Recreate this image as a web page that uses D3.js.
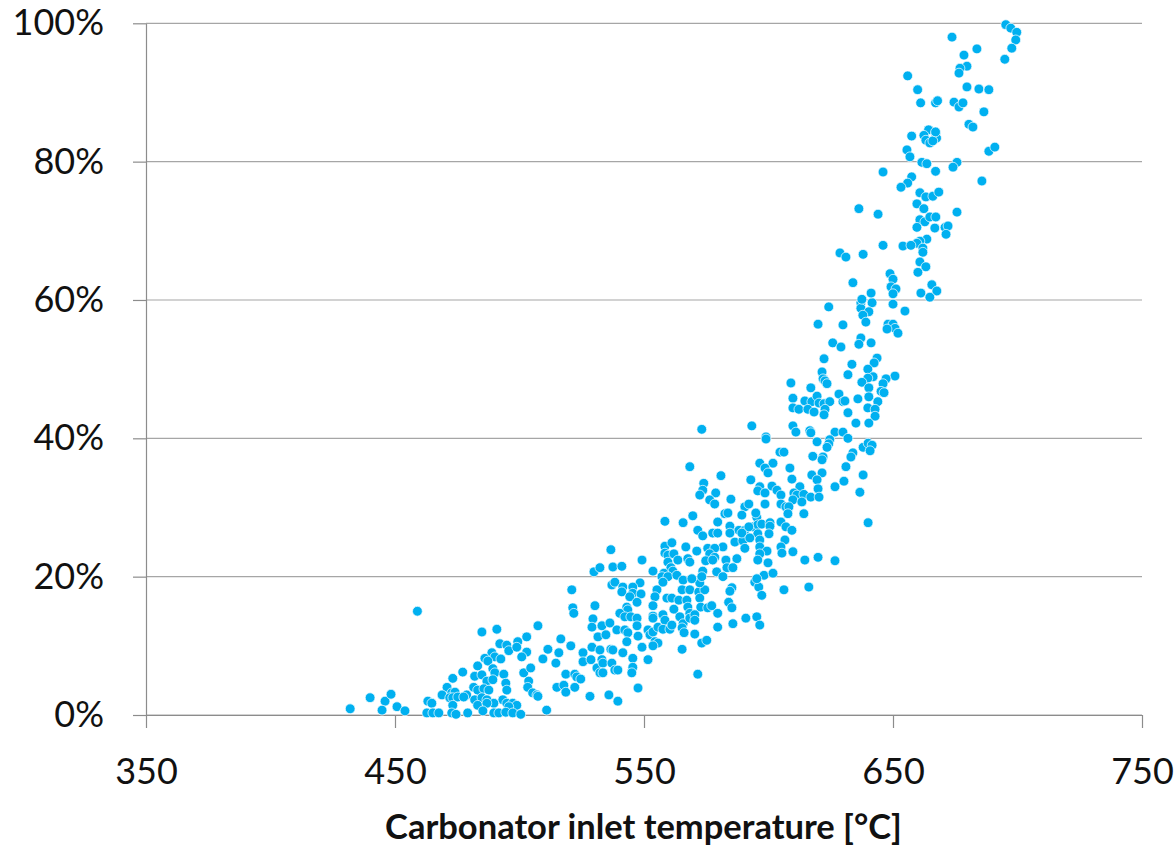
<!DOCTYPE html>
<html>
<head>
<meta charset="utf-8">
<script src="https://cdn.jsdelivr.net/npm/d3@7"></script>
<style>
  body { margin: 0; background: #fff; }
  text { font-family: Lato, "Open Sans", sans-serif; }
</style>
</head>
<body>
<div id="chart"></div>
<script>
const width = 1176;
const height = 846;

// [inlet temperature °C, share %]
const points = [
  [432,0.9],[440,2.5],[446,2.0],[448.4,3.0],[444.8,0.7],[450.8,1.2],[454,0.6],[459,15.0],
  [521,18.1],[521.4,15.5],[521.8,14.7],[530.3,15.8],[484.9,12.0],[490.9,12.4],[507.4,12.9],[529.5,13.9],
  [529.1,12.7],[516.6,11.0],[520.6,10.0],[529.1,9.8],[525.5,9.0],[511.4,9.5],[515.8,9.0],[509.4,8.1],
  [514.6,7.5],[525.5,7.7],[528.7,8.0],[531.1,6.8],[531.5,11.3],[502.9,11.3],[499.3,10.6],[492.1,10.3],
  [494.9,10.1],[495.7,9.3],[498.9,9.8],[502.9,9.1],[500.9,8.4],[488.9,9.0],[490.1,8.4],[486.1,8.2],
  [487.3,7.8],[492.5,8.1],[483.2,7.1],[477.2,6.2],[473.2,5.3],[482,5.6],[484.9,5.8],[489.3,6.7],
  [490.1,6.1],[493.7,5.9],[486.9,4.9],[489.3,5.1],[494.5,4.6],[501.7,6.1],[504.5,6.8],[503.7,4.9],
  [503.3,4.0],[505.3,3.2],[507,2.9],[507.4,2.7],[518.6,5.9],[522.2,5.9],[523,5.5],[524.6,5.2],
  [515,4.0],[517.8,4.3],[518.6,3.3],[522.2,4.0],[470.9,4.0],[472.8,3.2],[474.1,3.3],[468.9,2.9],
  [472,2.5],[473.2,2.5],[475.2,2.6],[481.6,4.0],[483.2,3.6],[485.7,3.8],[487.7,3.6],[494.9,3.6],
  [478.8,2.9],[477.6,2.6],[482,2.2],[484.9,2.5],[486.9,2.2],[493.3,2.2],[494.9,1.7],[489.7,1.7],
  [483.2,1.4],[486.9,1.7],[497.3,1.7],[498.9,1.4],[463.2,2.0],[464.8,1.7],[473.2,1.4],[495.7,1.2],
  [462.8,0.3],[465.2,0.3],[467.6,0.3],[472.8,0.3],[474.5,0.1],[479.2,0.3],[485.3,0.6],[489.7,0.3],
  [491.7,0.3],[494.5,0.4],[497.3,0.3],[500.5,0.1],[510.9,0.7],[528.3,2.7],[529.9,20.7],
  [558.4,28.0],[565.7,27.8],[558.4,24.4],[561.2,24.9],[566.8,24.3],[536.7,23.9],[549.2,22.4],[558.4,23.4],
  [559.6,23.1],[562,23.3],[563.6,22.4],[559.6,22.1],[567.6,22.6],[532.3,21.3],[537.5,21.4],[541.1,21.5],
  [560.8,21.3],[561.6,20.8],[553.6,20.8],[558,20.5],[557.2,20.0],[559.6,20.0],[563.2,20.2],[565.7,19.5],
  [537.1,18.8],[538.3,19.2],[548.4,19.1],[557.6,19.2],[541.5,18.5],[541.1,17.8],[545.5,18.5],[545.5,17.6],
  [555.2,18.1],[565.3,18.1],[559.2,16.9],[561.2,16.9],[564,16.6],[567.2,16.6],[554.4,17.1],[548.8,17.5],
  [544.3,17.1],[543.1,15.6],[547.2,16.3],[543.5,15.2],[553.6,15.8],[553.6,14.3],[562,15.3],[567.6,15.6],
  [540.3,14.7],[542.3,14.2],[544.7,14.2],[547.2,14.0],[553.6,14.0],[557.6,14.5],[558.4,13.7],[564.4,14.2],
  [533.1,12.9],[536.3,13.3],[534.7,11.6],[539.1,12.3],[542.3,12.3],[543.5,11.9],[547.2,12.9],[547.6,11.4],
  [551.6,12.3],[552.4,11.6],[553.6,12.0],[555.6,12.7],[554.4,10.6],[555.6,10.4],[553.6,10.0],[557.6,12.4],
  [560.4,12.4],[561.2,13.0],[565.7,13.2],[565.3,12.6],[566.1,11.9],[549.2,9.8],[543.1,10.6],[536.7,9.5],
  [537.5,9.4],[541.5,9.0],[532.3,9.4],[533.1,8.0],[533.5,7.5],[537.1,7.5],[538.3,6.5],[539.5,6.5],
  [545.5,8.2],[545.5,6.9],[545.1,6.1],[551.6,8.0],[565.3,9.5],[532.3,6.1],[533.5,6.1],[547.6,3.9],
  [535.9,2.9],[539.5,2.0],
  [568.4,18.1],[572,17.8],[574.4,18.1],[572.4,16.9],[572.8,15.6],[568.4,14.7],[575.6,15.5],[577.2,15.8],
  [584,16.3],[579.6,14.7],[585.3,15.5],[568.4,14.0],[570.4,14.5],[570.4,13.7],[590.9,14.0],[595.3,14.2],
  [596.5,13.0],[585.7,13.2],[579.6,12.7],[570.4,11.7],[573.2,10.4],[575.2,10.8],[571.6,5.9],[585.3,18.4],
  [584.5,17.9],[594.5,19.2],[596.1,18.5],[597.3,17.3],[606.2,18.1],[572.4,19.1],[616.2,18.5],
  [573.2,41.3],[593.3,41.8],[599,40.2],[599,39.9],[604.6,38.0],[606.2,38.0],[596.5,36.4],[601.8,36.4],
  [568.4,35.9],[598.6,35.7],[599.8,35.0],[580.9,34.6],[592.9,34.0],[574,33.5],[573.6,32.5],[572.4,31.8],
  [578.8,32.1],[576.4,31.1],[578.4,30.5],[584.9,31.2],[596.5,33.0],[595.7,32.4],[601.4,33.1],[603.4,32.5],
  [598.6,32.1],[598.6,30.5],[590.5,30.1],[592.1,30.5],[569.6,28.8],[582.5,29.1],[583.7,29.2],[589.3,28.9],
  [595.3,28.6],[593.7,27.2],[595.7,27.5],[597.3,27.6],[600.6,27.8],[600.6,27.3],[584.5,27.3],[579.6,27.9],
  [588.1,26.7],[590.5,26.7],[592.1,27.2],[571.6,26.7],[573.6,25.9],[577.6,26.3],[579.6,26.3],[584.5,26.3],
  [586.5,25.0],[589.7,25.2],[595.7,26.2],[596.5,25.3],[600.2,26.2],[581.7,24.3],[596.5,24.3],[571.2,23.7],
  [575.6,24.1],[578.4,24.1],[576.4,23.3],[578.4,22.8],[590.5,24.1],[599.4,23.7],[582.9,22.4],[587.3,22.6],
  [568.4,22.1],[574.8,22.3],[577.6,22.4],[596.5,23.3],[599.8,22.0],[595.7,22.4],[583.3,21.3],[585.7,21.3],
  [579.2,20.7],[573.6,20.8],[598.2,20.2],[601.8,20.5],[595.3,19.7],[573.2,20.0],
  [594.9,29.2],[589.3,26.3],[592.5,25.6],[581.7,20.0],[569.2,19.7],
  [637.1,59.6],[641.6,59.6],[637.1,58.8],[640.3,58.3],[637.9,57.8],[639.1,56.8],[624.2,59.0],[650,59.4],
  [654.8,58.4],[619.9,56.5],[629.9,56.4],[648,56.5],[650,56.5],[650.8,55.9],[647.6,55.8],[652,55.2],
  [637.1,54.5],[636.3,53.6],[641.2,53.8],[625.8,53.8],[629.1,53.2],[622.3,51.5],[643.6,51.6],[642.4,50.9],
  [633.5,50.7],[639.9,50.0],[621.5,49.6],[631.9,49.2],[642,48.9],[639.9,48.7],[621.9,48.6],[622.7,48.3],
  [623.5,47.9],[650.8,49.0],[647.2,48.6],[646,47.9],[609,48.0],[637.5,48.1],[617,47.3],[645.2,46.8],
  [646.4,46.6],[640.3,47.3],[609.8,45.8],[614.6,45.4],[617.4,45.3],[619.5,46.1],[620.3,45.1],[609.8,44.4],
  [612.2,44.2],[615.8,44.2],[618.3,43.8],[622.3,45.0],[624.6,45.3],[622.7,44.2],[622.3,43.4],[628.3,46.4],
  [629.9,45.3],[630.7,45.4],[631.9,43.7],[635.9,45.7],[640.3,46.0],[643.9,45.3],[639.9,44.4],[642.8,44.2],
  [642.8,43.2],[635.1,42.2],[640.3,42.2],[609.8,41.8],[611,40.9],[616.6,41.1],[617,40.8],[626.7,40.9],
  [629.9,40.9],[631.9,40.0],[619.5,39.5],[624.6,39.8],[624.2,39.2],[623.5,38.7],[638,38.7],[640,39.3],
  [641.6,39.0],[640.8,38.2],[633.9,37.9],[633.1,37.3],[617.8,37.4],[621.9,37.3],[621.5,36.9],[608.6,35.7],
  [631.1,35.9],[617.4,34.7],[621.5,35.0],[619.5,34.0],[609.4,34.1],[630.3,33.8],[638,34.7],
  [612.6,33.0],[619.9,32.7],[626.7,33.0],[636.7,32.2],[605,31.8],[610.2,32.1],[611.4,31.8],[614.2,31.9],
  [617,31.5],[620.3,31.5],[609.8,31.1],[613.4,30.8],[605,30.5],[607,30.1],[608.2,30.1],[607.8,29.1],
  [614.2,29.1],[640,27.8],[605,27.9],[607,27.2],[609.4,26.7],[606.6,25.3],[605,24.3],[605.4,23.4],
  [609.8,23.6],[614.6,22.4],[619.9,22.8],[626.7,22.3],
  [695.3,99.8],[697.3,99.3],[699.7,98.7],[699.3,97.6],[673.7,98.0],[683.7,96.3],[697.7,96.4],[694.9,94.8],
  [678.5,95.4],[679.7,93.8],[676.9,93.5],[676.5,92.8],[655.9,92.4],[659.9,90.4],[679.7,90.8],[684.5,90.5],
  [688.5,90.4],[661.1,88.5],[667.1,88.5],[667.9,88.8],[674.5,88.6],[676.5,87.9],[678.1,88.5],[686.5,87.2],
  [680.5,85.4],[682.1,85.0],[664.3,84.6],[667.1,84.1],[662.4,83.8],[667.5,83.4],[663.2,83.1],[664.8,82.7],
  [666,83.0],[667.1,84.3],[657.5,83.7],[655.6,81.7],[656.8,80.7],[688.5,81.5],[690.9,82.1],[661.6,79.9],
  [663.6,79.7],[675.7,79.9],[674.1,79.2],[646,78.5],[667.1,78.6],[657.5,77.8],[655.9,76.9],[653.2,76.3],
  [685.7,77.2],[660.8,75.5],[663.2,74.9],[666,75.0],[668.4,75.6],[659.6,73.9],[636.3,73.2],[644,72.4],
  [662.4,73.2],[675.7,72.7],[660.8,71.6],[662.8,71.3],[664.8,72.0],[667.2,72.0],[659.6,70.5],[666.8,70.4],
  [670.9,70.5],[672.1,70.7],[671.3,69.5],[663.6,68.8],[660.8,68.5],[659.6,68.2],[662,67.5],[662,66.9],
  [646,67.9],[654,67.8],[657.2,67.9],[628.7,66.8],[631.1,66.2],[638,66.6],[660.8,65.5],[663.2,64.8],
  [660,64.0],[648.8,63.8],[650,63.0],[633.9,62.5],[649.2,61.9],[651.2,61.6],[665.6,62.2],[667.6,61.3],
  [641.2,61.0],[661.2,61.0],[650,60.9],[664.8,60.4],[637.5,60.1]
];

const xTicks = [350, 450, 550, 650, 750];
const yTicks = [0, 20, 40, 60, 80, 100];
const xTitle = 'Carbonator inlet temperature [°C]';

const plotLeft = 146, plotRight = 1142, plotTop = 23.3, plotBottom = 715;

const svg = d3.select('#chart')
  .append('svg')
  .attr('width', width)
  .attr('height', height);

const xScale = d3.scaleLinear().domain([350, 750]).range([plotLeft, plotRight]);
const yScale = d3.scaleLinear().domain([0, 100]).range([plotBottom, plotTop]);

// gridlines
svg.append('g')
  .selectAll('line').data(yTicks)
  .enter().append('line')
  .attr('x1', plotLeft).attr('x2', plotRight)
  .attr('y1', d => yScale(d)).attr('y2', d => yScale(d))
  .attr('stroke', '#a6a6a6')
  .attr('stroke-width', 1.2);

const yAxis = d3.axisLeft(yScale)
  .tickValues(yTicks)
  .tickSize(13)
  .tickSizeOuter(0)
  .tickPadding(29)
  .tickFormat(d => d + '%');

const xAxis = d3.axisBottom(xScale)
  .tickValues(xTicks)
  .tickSize(13)
  .tickSizeOuter(0)
  .tickPadding(30)
  .tickFormat(d3.format('d'));

const gy = svg.append('g')
  .attr('transform', `translate(${plotLeft},0)`)
  .call(yAxis);

const gx = svg.append('g')
  .attr('transform', `translate(0,${plotBottom})`)
  .call(xAxis);

[gx, gy].forEach(g => {
  g.select('.domain').attr('stroke', '#8c8c8c').attr('stroke-width', 1.2);
  g.selectAll('.tick line').attr('stroke', '#8c8c8c').attr('stroke-width', 1.2);
  g.selectAll('.tick text')
    .attr('fill', '#111')
    .style('font-size', '36px')
    .style('font-family', 'Lato, "Open Sans", sans-serif');
});

svg.append('text')
  .attr('x', (383 + 904) / 2)
  .attr('y', 839)
  .attr('text-anchor', 'middle')
  .style('font-size', '34.5px')
  .style('font-weight', 'bold')
  .attr('fill', '#111')
  .text(xTitle);

svg.append('g')
  .selectAll('circle').data(points)
  .enter().append('circle')
  .attr('cx', d => xScale(d[0]))
  .attr('cy', d => yScale(d[1]))
  .attr('r', 4.9)
  .attr('fill', '#00b0f0')
  .attr('stroke', '#fff')
  .attr('stroke-width', 0.7);
</script>
</body>
</html>
